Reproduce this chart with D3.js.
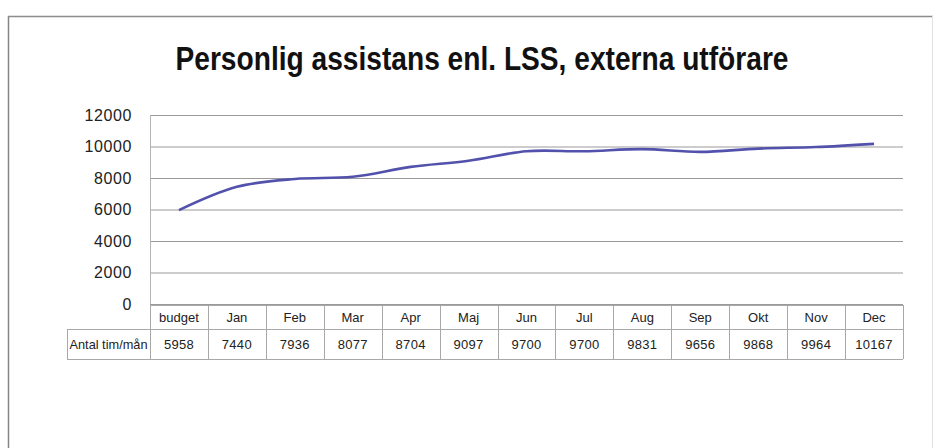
<!DOCTYPE html>
<html>
<head>
<meta charset="utf-8">
<script src="https://cdn.jsdelivr.net/npm/d3@7"></script>
<style>
  html, body { margin: 0; padding: 0; background: #fff; }
  svg { display: block; }
</style>
</head>
<body>
<svg id="chart" width="942" height="448"></svg>
<script>
// Monthly hours, personal assistance (LSS), external providers
const categories = ["budget", "Jan", "Feb", "Mar", "Apr", "Maj", "Jun", "Jul", "Aug", "Sep", "Okt", "Nov", "Dec"];
const hours = [5958, 7440, 7936, 8077, 8704, 9097, 9700, 9700, 9831, 9656, 9868, 9964, 10167];
const yTicks = [0, 2000, 4000, 6000, 8000, 10000, 12000];
const rowLabel = "Antal tim/mån";
const title = "Personlig assistans enl. LSS, externa utförare";

(function draw() {
  const svg = d3.select("#chart");

  // outer frame: darker top/left edges, faint right edge
  svg.append("line").attr("x1", 8.5).attr("x2", 8.5).attr("y1", 16).attr("y2", 448)
    .attr("stroke", "#858585").attr("stroke-width", 1.5);
  svg.append("line").attr("x1", 8).attr("x2", 933).attr("y1", 16.5).attr("y2", 16.5)
    .attr("stroke", "#8c8c8c").attr("stroke-width", 1.5);
  svg.append("line").attr("x1", 932.5).attr("x2", 932.5).attr("y1", 16).attr("y2", 448)
    .attr("stroke", "#e2e2e2").attr("stroke-width", 1);

  // title
  svg.append("text")
    .attr("x", 482).attr("y", 70)
    .attr("text-anchor", "middle")
    .attr("font-family", "'Liberation Sans Narrow', 'Liberation Sans', sans-serif")
    .attr("font-weight", "bold")
    .attr("font-size", 33)
    .attr("textLength", 613)
    .attr("lengthAdjust", "spacingAndGlyphs")
    .attr("fill", "#111")
    .text(title);

  const plotLeft = 150, plotRight = 903, plotTop = 115, plotBottom = 304;

  const x = d3.scaleBand().domain(categories).range([plotLeft, plotRight]).padding(0);
  const y = d3.scaleLinear().domain([0, 12000]).range([plotBottom, plotTop]);

  // horizontal gridlines
  svg.append("g")
    .attr("transform", `translate(${plotLeft},0)`)
    .call(d3.axisLeft(y).tickValues(yTicks).tickSize(-(plotRight - plotLeft)).tickFormat(""))
    .call(g => g.select(".domain").remove())
    .call(g => g.selectAll("line").attr("stroke", "#9a9a9a").attr("stroke-width", 1));

  // vertical axis line
  svg.append("line")
    .attr("x1", plotLeft + 0.5).attr("x2", plotLeft + 0.5)
    .attr("y1", plotTop).attr("y2", plotBottom)
    .attr("stroke", "#b5b5b5");

  // y tick labels
  svg.append("g")
    .attr("transform", `translate(${plotLeft},0)`)
    .call(d3.axisLeft(y).tickValues(yTicks).tickSize(0).tickPadding(18).tickFormat(d => String(d)))
    .call(g => g.select(".domain").remove())
    .call(g => g.selectAll("text")
      .attr("font-family", "'Liberation Sans', Arial, sans-serif")
      .attr("font-size", 16)
      .attr("letter-spacing", 0.6)
      .attr("fill", "#222"));

  // data line
  const line = d3.line()
    .x((d, i) => x(categories[i]) + x.bandwidth() / 2)
    .y(d => y(d))
    .curve(d3.curveCatmullRom.alpha(0.5));

  svg.append("path")
    .datum(hours)
    .attr("d", line)
    .attr("fill", "none")
    .attr("stroke", "#5252ad")
    .attr("stroke-width", 2.6)
    .attr("stroke-linejoin", "round");

  // data table below the plot
  const headH = 24, dataH = 30;
  const headTop = plotBottom + 1, dataTop = headTop + headH, tableBottom = dataTop + dataH;
  const labelLeft = 67;
  const tbl = svg.append("g")
    .attr("font-family", "'Liberation Sans', Arial, sans-serif")
    .attr("font-size", 13)
    .attr("fill", "#222");
  const gridStroke = "#a8a8a8";

  // horizontal rules
  tbl.append("line").attr("x1", plotLeft).attr("x2", plotRight).attr("y1", headTop + 0.5).attr("y2", headTop + 0.5).attr("stroke", gridStroke);
  tbl.append("line").attr("x1", labelLeft).attr("x2", plotRight).attr("y1", dataTop + 0.5).attr("y2", dataTop + 0.5).attr("stroke", gridStroke);
  tbl.append("line").attr("x1", labelLeft).attr("x2", plotRight).attr("y1", tableBottom + 0.5).attr("y2", tableBottom + 0.5).attr("stroke", gridStroke);
  // vertical rules
  tbl.append("line").attr("x1", labelLeft + 0.5).attr("x2", labelLeft + 0.5).attr("y1", dataTop).attr("y2", tableBottom).attr("stroke", gridStroke);
  tbl.selectAll("line.col")
    .data(categories.concat(["__end"]))
    .enter().append("line")
    .attr("class", "col")
    .attr("x1", d => Math.round(d === "__end" ? plotRight : x(d)) + 0.5)
    .attr("x2", d => Math.round(d === "__end" ? plotRight : x(d)) + 0.5)
    .attr("y1", headTop).attr("y2", tableBottom)
    .attr("stroke", gridStroke);

  // header cells
  tbl.selectAll("text.head")
    .data(categories)
    .enter().append("text")
    .attr("class", "head")
    .attr("x", d => x(d) + x.bandwidth() / 2)
    .attr("y", headTop + headH / 2 + 4.5)
    .attr("text-anchor", "middle")
    .text(d => d);

  // value cells
  tbl.selectAll("text.val")
    .data(hours)
    .enter().append("text")
    .attr("class", "val")
    .attr("x", (d, i) => x(categories[i]) + x.bandwidth() / 2)
    .attr("y", dataTop + dataH / 2 + 4.5)
    .attr("text-anchor", "middle")
    .attr("letter-spacing", 0.3)
    .text(d => String(d));

  tbl.append("text")
    .attr("x", (labelLeft + plotLeft) / 2)
    .attr("y", dataTop + dataH / 2 + 4.5)
    .attr("text-anchor", "middle")
    .attr("textLength", 78)
    .attr("lengthAdjust", "spacingAndGlyphs")
    .text(rowLabel);
})();
</script>
</body>
</html>
